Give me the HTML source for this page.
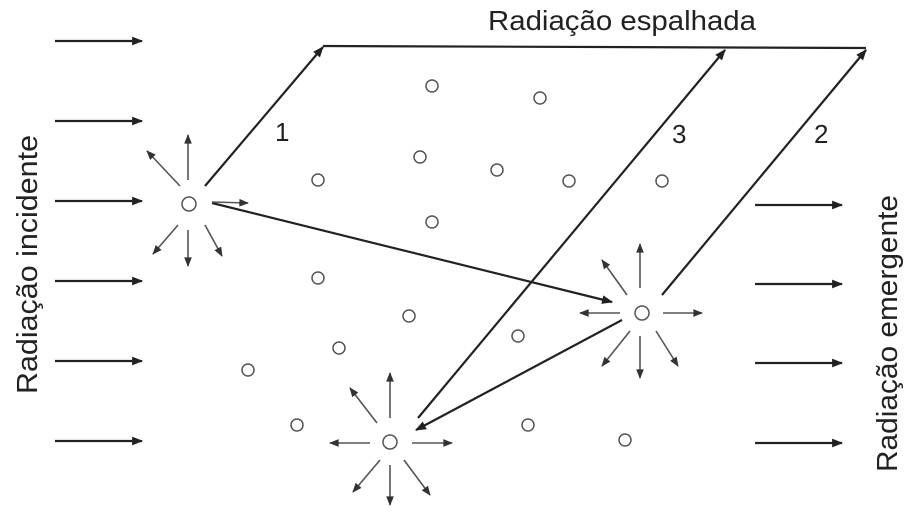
<!DOCTYPE html>
<html><head><style>body{margin:0;background:#fff}svg{display:block}</style></head><body>
<svg width="912" height="516" viewBox="0 0 912 516" xmlns="http://www.w3.org/2000/svg">
<defs>
<marker id="a" viewBox="0 0 10 10" refX="9" refY="5" markerWidth="7" markerHeight="6" orient="auto" markerUnits="strokeWidth"><path d="M0,1 L10,5 L0,9 Z" fill="#333"/></marker>
<marker id="b" viewBox="0 0 10 10" refX="9" refY="5" markerWidth="7" markerHeight="5" orient="auto" markerUnits="strokeWidth"><path d="M0,1 L10,5 L0,9 Z" fill="#222"/></marker>
</defs>
<g stroke="#222" stroke-width="2.2" marker-end="url(#b)">
<line x1="55" y1="41" x2="142" y2="41"/><line x1="55" y1="121" x2="142" y2="121"/>
<line x1="55" y1="201" x2="142" y2="201"/><line x1="55" y1="281" x2="142" y2="281"/>
<line x1="55" y1="361" x2="142" y2="361"/><line x1="55" y1="441" x2="142" y2="441"/>
<line x1="755" y1="205" x2="842" y2="205"/><line x1="755" y1="284" x2="842" y2="284"/>
<line x1="755" y1="363" x2="842" y2="363"/><line x1="755" y1="443" x2="842" y2="443"/>
<line x1="205" y1="186" x2="323" y2="47"/>
<line x1="418" y1="418" x2="725" y2="50"/>
<line x1="662" y1="295" x2="866" y2="50"/>
<line x1="212" y1="203" x2="612" y2="302"/>
<line x1="622" y1="320" x2="416" y2="430"/>
</g>
<line x1="323" y1="46" x2="866" y2="48" stroke="#222" stroke-width="2.2"/>
<g stroke="#555" stroke-width="1.6" marker-end="url(#a)">
<line x1="188" y1="180" x2="188" y2="135"/><line x1="180" y1="186" x2="147" y2="151"/>
<line x1="212" y1="202" x2="248" y2="203"/><line x1="178" y1="225" x2="153" y2="254"/>
<line x1="188" y1="230" x2="188" y2="266"/><line x1="205" y1="225" x2="222" y2="256"/>
<line x1="390" y1="418" x2="390" y2="373"/><line x1="377" y1="423" x2="350" y2="388"/>
<line x1="370" y1="443" x2="330" y2="443"/><line x1="412" y1="443" x2="452" y2="443"/>
<line x1="380" y1="460" x2="353" y2="492"/><line x1="390" y1="465" x2="390" y2="505"/>
<line x1="404" y1="460" x2="430" y2="495"/>
<line x1="640" y1="288" x2="640" y2="244"/><line x1="627" y1="295" x2="602" y2="260"/>
<line x1="620" y1="313" x2="580" y2="313"/><line x1="663" y1="313" x2="702" y2="313"/>
<line x1="630" y1="331" x2="602" y2="366"/><line x1="640" y1="336" x2="640" y2="378"/>
<line x1="656" y1="331" x2="678" y2="366"/>
</g>
<g fill="none" stroke="#555" stroke-width="1.5">
<circle cx="189" cy="204" r="7"/><circle cx="390" cy="442" r="7"/><circle cx="642" cy="313" r="7"/>
<circle cx="432" cy="86" r="6"/><circle cx="540" cy="98" r="6"/><circle cx="420" cy="157" r="6"/>
<circle cx="497" cy="170" r="6"/><circle cx="318" cy="180" r="6"/><circle cx="569" cy="181" r="6"/>
<circle cx="662" cy="181" r="6"/><circle cx="432" cy="222" r="6"/><circle cx="318" cy="278" r="6"/>
<circle cx="409" cy="316" r="6"/><circle cx="518" cy="336" r="6"/><circle cx="339" cy="348" r="6"/>
<circle cx="248" cy="370" r="6"/><circle cx="297" cy="425" r="6"/><circle cx="528" cy="425" r="6"/>
<circle cx="625" cy="440" r="6"/>
</g>
<g font-family="Liberation Sans, sans-serif" fill="#222">
<text x="488" y="30" font-size="28" textLength="268" lengthAdjust="spacingAndGlyphs">Radiação espalhada</text>
<text x="275" y="141" font-size="26">1</text><text x="672" y="143" font-size="26">3</text><text x="814" y="143" font-size="26">2</text>
<text transform="translate(37,394) rotate(-90)" font-size="29" textLength="259" lengthAdjust="spacingAndGlyphs">Radiação incidente</text>
<text transform="translate(897,472) rotate(-90)" font-size="29" textLength="277" lengthAdjust="spacingAndGlyphs">Radiação emergente</text>
</g>
</svg>
</body></html>
